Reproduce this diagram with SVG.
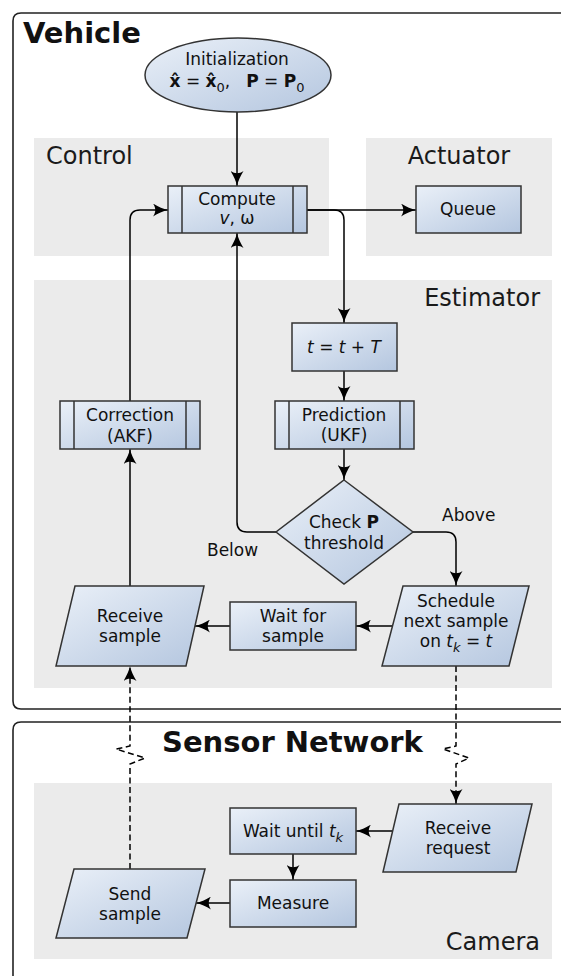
<svg xmlns="http://www.w3.org/2000/svg" width="561" height="976" viewBox="0 0 561 976">
  <defs>
    <linearGradient id="nodeFill" x1="0" y1="0" x2="1" y2="1">
      <stop offset="0" stop-color="#eaf0f8"/>
      <stop offset="1" stop-color="#b4c6df"/>
    </linearGradient>
    <marker id="arrow" viewBox="0 0 16 13" refX="15" refY="6.5" markerWidth="16" markerHeight="13" markerUnits="userSpaceOnUse" orient="auto">
      <path d="M15,6.5 C10,7.5 5,10 0,13 C3,9 3,4 0,0 C5,3 10,5.5 15,6.5 Z" fill="#000"/>
    </marker>
    <style>
      text { font-family: "DejaVu Sans", "Liberation Sans", sans-serif; fill: #111; }
      .title { font-size: 29px; font-weight: bold; }
      .panelLabel { font-size: 24px; fill: #1a1a1a; }
      .label { font-size: 17px; text-anchor: middle; }
      .plain { font-size: 17px; }
      .node { fill: url(#nodeFill); stroke: #333; stroke-width: 1.5; }
      .bar { fill: none; stroke: #333; stroke-width: 1.5; }
      .panel { fill: #ebebeb; }
      .frame { fill: none; stroke: #222; stroke-width: 1.6; }
      .edge { fill: none; stroke: #000; stroke-width: 1.5; marker-end: url(#arrow); }
      .dashed { stroke-dasharray: 6 3.5; }
      .it { font-style: italic; }
      .b { font-weight: bold; }
    </style>
  </defs>

  <!-- outer frames -->
  <g id="vehicle-frame">
    <path class="frame" d="M575,13 L21,13 Q13,13 13,21 L13,701 Q13,709 21,709 L575,709"/>
    <text class="title" x="23" y="43">Vehicle</text>
  </g>
  <g id="sensor-frame">
    <path class="frame" d="M575,722 L21,722 Q13,722 13,730 L13,990"/>
    <text class="title" x="162" y="752">Sensor Network</text>
  </g>

  <!-- grey panels -->
  <g id="panel-control">
    <rect class="panel" x="34" y="138" width="295" height="118"/>
    <text class="panelLabel" x="46" y="164">Control</text>
  </g>
  <g id="panel-actuator">
    <rect class="panel" x="366" y="138" width="186" height="118"/>
    <text class="panelLabel" x="459" y="164" text-anchor="middle">Actuator</text>
  </g>
  <g id="panel-estimator">
    <rect class="panel" x="34" y="280" width="518" height="408"/>
    <text class="panelLabel" x="540" y="306" text-anchor="end">Estimator</text>
  </g>
  <g id="panel-camera">
    <rect class="panel" x="34" y="783" width="518" height="176"/>
    <text class="panelLabel" x="540" y="950" text-anchor="end">Camera</text>
  </g>

  <!-- connectors -->
  <g id="connectors">
    <path class="edge" d="M237,112 L237,186"/>
    <path class="edge" d="M307,210 L416,210"/>
    <path class="edge" d="M307,210 L334,210 Q344,210 344,220 L344,323"/>
    <path class="edge" d="M344,371 L344,401"/>
    <path class="edge" d="M344,449 L344,480"/>
    <path class="edge" d="M276,532 L247,532 Q237,532 237,522 L237,233"/>
    <path class="edge" d="M413,532 L446,532 Q456,532 456,542 L456,586"/>
    <path class="edge" d="M392,626 L356,626"/>
    <path class="edge" d="M230,626 L195,626"/>
    <path class="edge" d="M130,586 L130,449"/>
    <path class="edge" d="M130,401 L130,220 Q130,210 140,210 L168,210"/>
    <path class="edge dashed" d="M456,666 L456,746 L443,749 L469,758 L456,764 L456,804"/>
    <path class="edge dashed" d="M130,869 L130,764 L145,758 L116,749 L130,746 L130,666"/>
    <path class="edge" d="M392,831 L356,831"/>
    <path class="edge" d="M293,854 L293,880"/>
    <path class="edge" d="M230,903 L196,903"/>
  </g>

  <!-- vehicle nodes -->
  <g id="init">
    <ellipse class="node" cx="238" cy="75" rx="93" ry="37"/>
    <text class="label" x="237" y="65">Initialization</text>
    <text class="label" x="237" y="87"><tspan class="b">x̂</tspan> = <tspan class="b">x̂</tspan><tspan font-size="13" dy="5">0</tspan><tspan dy="-5">,</tspan><tspan class="b" dx="16">P</tspan> = <tspan class="b">P</tspan><tspan font-size="13" dy="5">0</tspan></text>
  </g>

  <g id="compute">
    <rect class="node" x="168" y="186" width="139" height="47"/>
    <path class="bar" d="M182,186 V233 M293,186 V233"/>
    <text class="label" x="237" y="205">Compute</text>
    <text class="label" x="237" y="224"><tspan class="it">v</tspan>, ω</text>
  </g>

  <g id="queue">
    <rect class="node" x="416" y="186" width="105" height="47"/>
    <text class="label" x="468" y="215">Queue</text>
  </g>

  <g id="time-step">
    <rect class="node" x="292" y="323" width="105" height="48"/>
    <text class="label" x="344" y="353"><tspan class="it">t</tspan> = <tspan class="it">t</tspan> + <tspan class="it">T</tspan></text>
  </g>

  <g id="prediction">
    <rect class="node" x="275" y="401" width="139" height="48"/>
    <path class="bar" d="M289,401 V449 M400,401 V449"/>
    <text class="label" x="344" y="421">Prediction</text>
    <text class="label" x="344" y="441">(UKF)</text>
  </g>

  <g id="check">
    <path class="node" d="M344,480 L413,532 L344,584 L276,532 Z"/>
    <text class="label" x="344" y="528">Check <tspan class="b">P</tspan></text>
    <text class="label" x="344" y="549">threshold</text>
  </g>
  <text class="plain" x="442" y="521">Above</text>
  <text class="plain" x="207" y="556">Below</text>

  <g id="correction">
    <rect class="node" x="60" y="401" width="140" height="48"/>
    <path class="bar" d="M74,401 V449 M186,401 V449"/>
    <text class="label" x="130" y="421">Correction</text>
    <text class="label" x="130" y="442">(AKF)</text>
  </g>

  <g id="receive-sample">
    <path class="node" d="M75,586 L204,586 L186,666 L56,666 Z"/>
    <text class="label" x="130" y="622">Receive</text>
    <text class="label" x="130" y="642">sample</text>
  </g>

  <g id="wait-sample">
    <rect class="node" x="230" y="602" width="126" height="48"/>
    <text class="label" x="293" y="622">Wait for</text>
    <text class="label" x="293" y="642">sample</text>
  </g>

  <g id="schedule">
    <path class="node" d="M403,586 L529,586 L509,666 L382,666 Z"/>
    <text class="label" x="456" y="607">Schedule</text>
    <text class="label" x="456" y="627">next sample</text>
    <text class="label" x="456" y="647">on <tspan class="it">t</tspan><tspan class="it" font-size="13" dy="5">k</tspan><tspan dy="-5"> = </tspan><tspan class="it">t</tspan></text>
  </g>

  <!-- camera nodes -->
  <g id="receive-request">
    <path class="node" d="M399,804 L532,804 L516,872 L383,872 Z"/>
    <text class="label" x="458" y="834">Receive</text>
    <text class="label" x="458" y="854">request</text>
  </g>

  <g id="wait-until">
    <rect class="node" x="230" y="808" width="126" height="46"/>
    <text class="label" x="293" y="837">Wait until <tspan class="it">t</tspan><tspan class="it" font-size="13" dy="5">k</tspan></text>
  </g>

  <g id="measure">
    <rect class="node" x="230" y="880" width="126" height="47"/>
    <text class="label" x="293" y="909">Measure</text>
  </g>

  <g id="send-sample">
    <path class="node" d="M74,869 L205,869 L187,938 L56,938 Z"/>
    <text class="label" x="130" y="900">Send</text>
    <text class="label" x="130" y="920">sample</text>
  </g>
</svg>
